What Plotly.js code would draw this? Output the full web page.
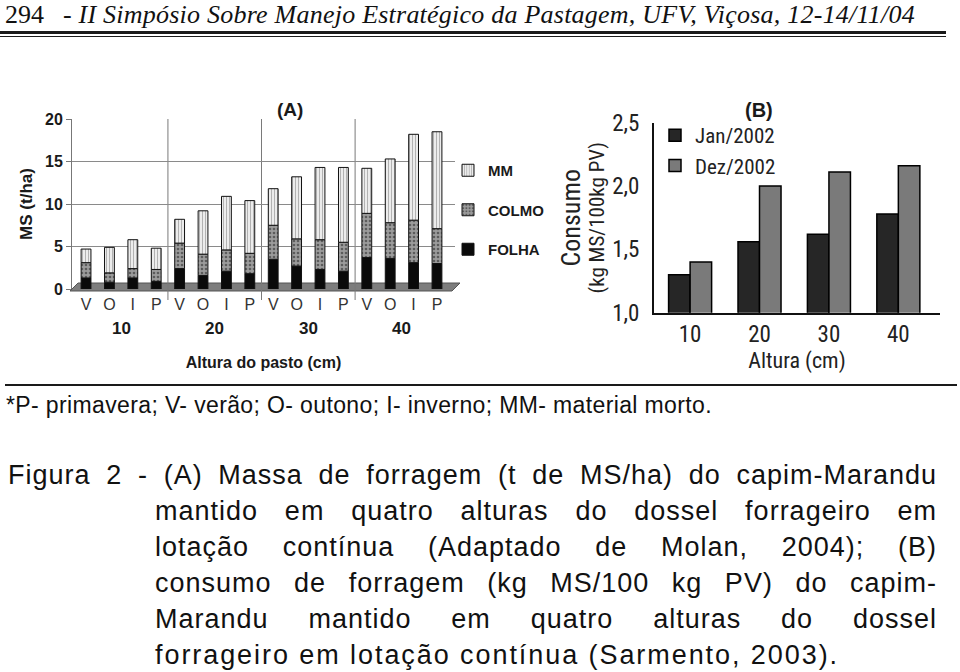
<!DOCTYPE html>
<html>
<head>
<meta charset="utf-8">
<script src="https://cdn.plot.ly/plotly-3.0.1.min.js"></script>
<style>
  html, body { margin:0; padding:0; background:#fff; }
  #page { position:relative; width:960px; height:672px; overflow:hidden; background:#fff; }
  #chart { position:absolute; left:0; top:0; width:960px; height:672px; }
  .txt { position:absolute; white-space:nowrap; color:#111; }
  .cap { position:absolute; font-family:'Liberation Sans', Arial, sans-serif; font-size:27px; line-height:36px; color:#111; letter-spacing:1.0px; white-space:nowrap; }
  .just { text-align:justify; text-align-last:justify; white-space:normal; }
  .rule { position:absolute; background:#1a1a1a; }
</style>
</head>
<body>
<div id="page">
  <div id="chart"></div>

  <div class="txt" id="hdrNum" style="left:5px; top:0px; font-family:'Liberation Serif','Times New Roman',serif; font-size:26px; line-height:30px;">294</div>
  <div class="txt fit" id="hdr" data-w="852" style="left:63px; top:0px; font-family:'Liberation Serif','Times New Roman',serif; font-style:italic; font-size:26px; line-height:30px;">- II Simpósio Sobre Manejo Estratégico da Pastagem, UFV, Viçosa, 12-14/11/04</div>
  <div class="rule" style="left:0; top:31px; width:946px; height:3px;"></div>
  <div class="rule" style="left:0; top:36px; width:946px; height:1px;"></div>

  <div class="rule" style="left:5px; top:384px; width:952px; height:2px;"></div>
  <div class="txt fit" id="foot" data-w="706" style="left:6px; top:392px; font-family:'Liberation Sans', Arial, sans-serif; font-size:23px; line-height:26px;">*P- primavera; V- verão; O- outono; I- inverno; MM- material morto.</div>

  <div class="cap just" style="left:8px; top:457px; width:929px;">Figura 2 - (A) Massa de forragem (t de MS/ha) do capim-Marandu</div>
  <div class="cap just" style="left:155px; top:493px; width:782px;">mantido em quatro alturas do dossel forrageiro em</div>
  <div class="cap just" style="left:155px; top:529px; width:782px;">lotação contínua (Adaptado de Molan, 2004); (B)</div>
  <div class="cap just" style="left:155px; top:565px; width:782px;">consumo de forragem (kg MS/100 kg PV) do capim-</div>
  <div class="cap just" style="left:155px; top:601px; width:782px;">Marandu mantido em quatro alturas do dossel</div>
  <div class="cap fit" data-w="684" style="left:155px; top:637px;">forrageiro em lotação contínua (Sarmento, 2003).</div>
</div>

<script>
// ---------------- DATA ----------------
// (A) Massa de forragem (t MS/ha) by pasture height and season
const heights = ['10', '20', '30', '40'];
const seasons = ['V', 'O', 'I', 'P'];
const folha = [1.3, 0.8, 1.3, 0.9,  2.4, 1.6, 2.1, 1.8,  3.5, 2.7, 2.3, 2.1,  3.7, 3.6, 3.1, 3.0];
const colmo = [1.8, 1.1, 1.1, 1.4,  3.0, 2.5, 2.5, 2.4,  4.0, 3.2, 3.5, 3.4,  5.2, 4.2, 5.0, 4.1];
const mm    = [1.6, 3.0, 3.4, 2.5,  2.8, 5.1, 6.3, 6.2,  4.3, 7.3, 8.5, 8.8,  5.3, 7.5, 10.1, 11.4];
const yTicksA = [0, 5, 10, 15, 20];

// (B) Consumo (kg MS/100 kg PV) by height
const alturas = ['10', '20', '30', '40'];
const jan2002 = [1.30, 1.56, 1.62, 1.78];
const dez2002 = [1.40, 2.00, 2.11, 2.16];
const yTicksB = [1.0, 1.5, 2.0, 2.5];
const yTickTextB = ['1,0', '1,5', '2,0', '2,5'];

// ---------------- HELPERS ----------------
const W = 960, H = 672;
const px = x => x / W;
const py = y => 1 - y / H;

const SANS = "Liberation Sans, Arial, sans-serif";
const NARROW = "Roboto Condensed, DejaVu Sans Condensed, Liberation Sans, sans-serif";

const xA = folha.map((_, i) => i);
const seasonLabels = heights.flatMap(() => seasons);
const mmBase = folha.map((f, i) => f + colmo[i]);

const lineA = { color: '#111', width: 1 };

const traces = [
  { type: 'bar', name: 'FOLHA', x: xA, y: folha, base: folha.map(() => 0),
    xaxis: 'x', yaxis: 'y', offsetgroup: 'A', width: 0.42,
    marker: { color: '#0a0a0a', line: lineA },
    legend: 'legend', legendgroup: 'folha', legendrank: 3, hoverinfo: 'skip' },
  { type: 'bar', name: 'COLMO', x: xA, y: colmo, base: folha,
    xaxis: 'x', yaxis: 'y', offsetgroup: 'A', width: 0.42,
    marker: { color: '#909090', line: lineA,
      pattern: { shape: '.', fgcolor: '#5c5c5c', bgcolor: '#9c9c9c', size: 4, solidity: 0.35 } },
    legend: 'legend', legendgroup: 'colmo', legendrank: 2, hoverinfo: 'skip' },
  { type: 'bar', name: 'MM', x: xA, y: mm, base: mmBase,
    xaxis: 'x', yaxis: 'y', offsetgroup: 'A', width: 0.42,
    marker: { color: '#e6e6e6', line: lineA,
      pattern: { shape: '|', fgcolor: '#ababab', bgcolor: '#ececec', size: 3, solidity: 0.3 } },
    legend: 'legend', legendgroup: 'mm', legendrank: 1, hoverinfo: 'skip' },

  { type: 'bar', name: 'Jan/2002', x: alturas, y: jan2002,
    xaxis: 'x2', yaxis: 'y2', offsetgroup: 'jan',
    marker: { color: '#262626', line: { color: '#000', width: 1.5 } },
    legend: 'legend2', legendgroup: 'jan', hoverinfo: 'skip' },
  { type: 'bar', name: 'Dez/2002', x: alturas, y: dez2002,
    xaxis: 'x2', yaxis: 'y2', offsetgroup: 'dez',
    marker: { color: '#7a7a7a', line: { color: '#000', width: 1.5 } },
    legend: 'legend2', legendgroup: 'dez', hoverinfo: 'skip' }
];

const annotations = [
  { xref: 'paper', yref: 'paper', x: px(275), y: py(97), text: '(A)', showarrow: false,
    font: { family: SANS, size: 19, weight: 700, color: '#1a1a1a' } },
  { xref: 'paper', yref: 'paper', x: px(775), y: py(97), text: '(B)', showarrow: false,
    font: { family: SANS, size: 20, weight: 700, color: '#1a1a1a' } }
].concat(heights.map((h, g) => ({
  xref: 'x', yref: 'paper', x: g * seasons.length + (seasons.length - 1) / 2, y: py(328),
  text: h, showarrow: false, font: { family: SANS, size: 17, weight: 700, color: '#1a1a1a' }
})));

const shapes = [
  // floor of chart A
  { type: 'path', xref: 'paper', yref: 'paper', layer: 'below',
    path: `M ${px(70)} ${py(291)} L ${px(452)} ${py(291)} L ${px(460)} ${py(283)} L ${px(78)} ${py(283)} Z`,
    fillcolor: '#7d7d7d', line: { color: '#555', width: 1 } }
].concat(heights.slice(1).map((_, g) => ({
  type: 'line', xref: 'x', yref: 'paper', layer: 'below',
  x0: (g + 1) * seasons.length - 0.5, x1: (g + 1) * seasons.length - 0.5,
  y0: py(300), y1: py(119), line: { color: '#7a7a7a', width: 1 }
})));

const layout = {
  width: W, height: H,
  margin: { l: 0, r: 0, t: 0, b: 0 },
  paper_bgcolor: 'rgba(0,0,0,0)', plot_bgcolor: 'rgba(0,0,0,0)',
  barmode: 'group', bargap: 0.38, bargroupgap: 0,
  separators: ',.',
  showlegend: true,
  xaxis: {
    domain: [px(72), px(455)], range: [-0.6, 15.77], anchor: 'y',
    tickmode: 'array', tickvals: xA, ticktext: seasonLabels,
    ticks: 'outside', ticklen: 1, tickcolor: 'rgba(0,0,0,0)',
    showline: false, showgrid: false, zeroline: false,
    tickfont: { family: SANS, size: 16, color: '#333' },
    title: { text: 'Altura do pasto (cm)', standoff: 44,
      font: { family: SANS, size: 16, weight: 700, color: '#1a1a1a' } },
    fixedrange: true
  },
  yaxis: {
    domain: [py(289), py(119)], range: [0, 20], anchor: 'x',
    tickmode: 'array', tickvals: yTicksA,
    showgrid: true, gridcolor: '#8a8a8a', gridwidth: 1,
    showline: true, linecolor: '#777', linewidth: 1,
    ticks: 'outside', ticklen: 5, tickcolor: '#777',
    zeroline: false,
    tickfont: { family: SANS, size: 16, weight: 700, color: '#1a1a1a' },
    title: { text: 'MS (t/ha)', standoff: 8,
      font: { family: SANS, size: 17, weight: 700, color: '#1a1a1a' } },
    fixedrange: true
  },
  xaxis2: {
    domain: [px(654), px(940)], range: [-0.52, 3.6], anchor: 'y2', type: 'category',
    ticks: '',
    showline: true, linecolor: '#111', linewidth: 2, showgrid: false, zeroline: false,
    tickfont: { family: NARROW, size: 23, color: '#222' },
    title: { text: 'Altura (cm)', standoff: 0,
      font: { family: NARROW, size: 22, color: '#222' } },
    fixedrange: true
  },
  yaxis2: {
    domain: [py(312.7), py(122.7)], range: [1.0, 2.5], anchor: 'x2',
    tickmode: 'array', tickvals: yTicksB, ticktext: yTickTextB,
    ticks: 'outside', ticklen: 8, tickcolor: 'rgba(0,0,0,0)',
    showline: true, linecolor: '#111', linewidth: 2, showgrid: false, zeroline: false,
    tickfont: { family: NARROW, size: 23, color: '#222' },
    title: { text: '<span style="font-size:26px">Consumo</span><br><span style="font-size:21px">(kg MS/100kg PV)</span>', standoff: 3,
      font: { family: NARROW, size: 18, color: '#222' } },
    fixedrange: true
  },
  legend: {
    x: px(448), y: py(154), xanchor: 'left', yanchor: 'top',
    bgcolor: 'rgba(0,0,0,0)', traceorder: 'grouped', tracegroupgap: 17,
    font: { family: SANS, size: 15, weight: 700, color: '#1a1a1a' }
  },
  legend2: {
    x: px(655), y: py(115), xanchor: 'left', yanchor: 'top',
    bgcolor: 'rgba(0,0,0,0)', traceorder: 'grouped', tracegroupgap: 0,
    font: { family: NARROW, size: 21, color: '#222' }
  },
  annotations: annotations,
  shapes: shapes
};

Plotly.newPlot('chart', traces, layout, { staticPlot: true, displayModeBar: false });

// fit single-line texts to their measured widths in the reference
document.querySelectorAll('.fit').forEach(el => {
  el.style.letterSpacing = '0px';
  const w = el.getBoundingClientRect().width;
  const n = el.textContent.length;
  const target = parseFloat(el.dataset.w);
  el.style.letterSpacing = ((target - w) / n) + 'px';
});
</script>
</body>
</html>
